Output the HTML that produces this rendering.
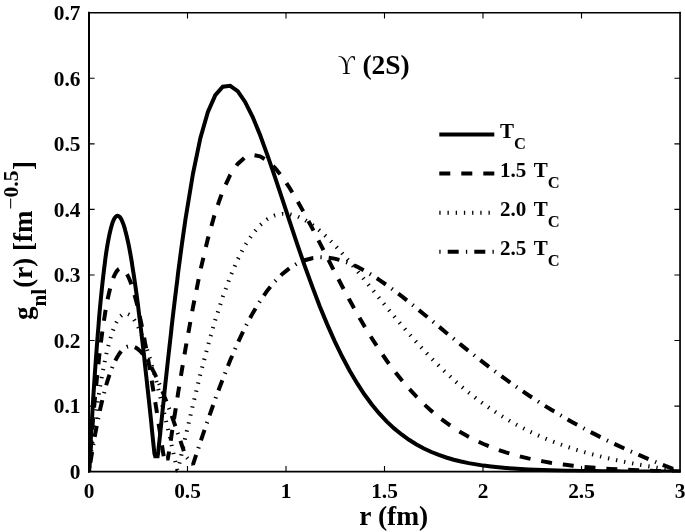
<!DOCTYPE html>
<html lang="en">
<head>
<meta charset="utf-8">
<title>Upsilon (2S) radial wave function</title>
<style>
html,body{margin:0;padding:0;background:#fff;}
body{width:685px;height:532px;overflow:hidden;}
svg{display:block;}
text{font-family:"Liberation Serif","DejaVu Serif",serif;font-weight:bold;fill:#000;}
.tk{font-size:21.4px;}
.ax{font-size:27px;}
.lg{font-size:21px;}
.sub{font-size:16.5px;}
.crv{fill:none;stroke:#000;stroke-width:4;stroke-linejoin:miter;stroke-miterlimit:2;}
</style>
</head>
<body>
<svg width="685" height="532" viewBox="0 0 685 532">
<rect x="0" y="0" width="685" height="532" fill="#fff"/>
<clipPath id="box"><rect x="88.0" y="12.8" width="593.0" height="459.8"/></clipPath>
<g clip-path="url(#box)">
<path class="crv" stroke-dasharray="1.3 6.9" stroke-dashoffset="-4" d="M89.0 471.6L89.8 464.4L90.6 457.4L91.4 450.6L92.2 443.9L92.9 437.5L93.7 431.2L94.5 425.0L95.3 419.1L96.1 413.3L96.9 407.8L97.7 402.4L98.5 397.1L99.2 392.1L100.0 387.2L100.8 382.5L101.6 377.9L102.4 373.5L103.2 369.3L104.0 365.3L104.8 361.4L105.5 357.7L106.3 354.1L107.1 350.7L107.9 347.5L108.7 344.5L109.5 341.5L110.3 338.8L111.1 336.2L111.9 333.7L112.6 331.4L113.4 329.3L114.2 327.3L115.0 325.4L115.8 323.7L116.6 322.1L117.4 320.7L118.2 319.4L118.9 318.2L119.7 317.2L120.5 316.3L121.3 315.6L122.1 314.9L122.9 314.4L123.7 314.0L124.5 313.8L125.2 313.6L126.0 313.6L126.8 313.7L127.6 313.9L128.4 314.3L129.2 314.7L130.0 315.2L130.8 315.9L131.6 316.6L132.3 317.5L133.1 318.4L133.9 319.5L134.7 320.6L135.5 321.9L136.3 323.2L137.1 324.6L137.9 326.1L138.6 327.7L139.4 329.4L140.2 331.1L141.0 333.0L141.8 334.9L142.6 336.8L143.4 338.9L144.2 341.0L144.9 343.2L145.7 345.5L146.5 347.8L147.3 350.2L148.1 352.7L148.9 355.2L149.7 357.8L150.5 360.4L151.3 363.1L152.0 365.8L152.8 368.6L153.6 371.4L154.4 374.3L155.2 377.2L156.0 380.1L156.8 383.1L157.6 386.2L158.3 389.2L159.1 392.4L159.9 395.5L160.7 398.7L161.5 401.9L162.3 405.1L163.1 408.4L163.9 411.7L164.6 415.0L165.4 418.3L166.2 421.7L167.0 425.0L167.8 428.4L168.6 431.8L169.4 435.3L170.2 438.7L171.0 442.2L171.7 445.6L172.5 449.1L173.3 452.6L174.1 456.1L174.9 459.5L175.7 463.0L176.5 466.5L177.3 470.0L178.0 469.6L178.8 466.1L179.6 462.6L180.4 459.1L181.2 455.7L182.0 452.2L182.8 448.7L185.5 436.7L193.0 404.6L200.4 374.1L207.9 345.8L215.3 319.9L222.8 296.9L230.2 276.7L237.7 259.5L245.1 245.3L252.6 234.0L260.0 225.3L267.4 219.2L274.9 215.5L282.4 213.9L289.8 214.3L297.2 216.3L304.7 219.8L312.2 224.7L319.6 230.6L327.1 237.4L334.5 244.9L342.0 253.1L349.4 261.6L356.9 270.5L364.3 279.6L371.8 288.8L379.2 298.0L386.6 307.2L394.1 316.2L401.6 325.1L409.0 333.8L416.5 342.2L423.9 350.3L431.4 358.2L438.8 365.7L446.2 372.9L453.7 379.8L461.1 386.3L468.6 392.5L476.1 398.4L483.5 403.9L491.0 409.1L498.4 414.0L505.9 418.6L513.3 423.0L520.8 427.0L528.2 430.8L535.7 434.3L543.1 437.6L550.5 440.7L558.0 443.5L565.5 446.2L572.9 448.7L580.4 451.0L587.8 453.1L595.2 455.1L602.7 457.0L610.2 458.7L617.6 460.4L625.0 461.9L632.5 463.4L640.0 464.8L647.4 466.1L654.9 467.4L662.3 468.6L669.8 469.9L677.2 471.1L680.0 471.6"/>
<path class="crv" stroke-dasharray="1.3 7 11 7.1" stroke-dashoffset="-0.6" d="M89.0 471.6L89.8 466.4L90.6 461.3L91.4 456.4L92.2 451.6L92.9 446.9L93.7 442.3L94.5 437.8L95.3 433.5L96.1 429.3L96.9 425.1L97.7 421.2L98.5 417.3L99.2 413.5L100.0 409.9L100.8 406.4L101.6 403.0L102.4 399.7L103.2 396.5L104.0 393.4L104.8 390.4L105.5 387.6L106.3 384.8L107.1 382.1L107.9 379.6L108.7 377.1L109.5 374.8L110.3 372.6L111.1 370.4L111.9 368.4L112.6 366.4L113.4 364.6L114.2 362.8L115.0 361.2L115.8 359.6L116.6 358.2L117.4 356.8L118.2 355.5L118.9 354.3L119.7 353.2L120.5 352.1L121.3 351.2L122.1 350.3L122.9 349.6L123.7 348.9L124.5 348.3L125.2 347.7L126.0 347.3L126.8 346.9L127.6 346.6L128.4 346.4L129.2 346.2L130.0 346.1L130.8 346.1L131.6 346.2L132.3 346.3L133.1 346.5L133.9 346.8L134.7 347.1L135.5 347.5L136.3 348.0L137.1 348.5L137.9 349.0L138.6 349.7L139.4 350.4L140.2 351.1L141.0 351.9L141.8 352.8L142.6 353.7L143.4 354.7L144.2 355.7L144.9 356.8L145.7 357.9L146.5 359.1L147.3 360.3L148.1 361.6L148.9 362.9L149.7 364.2L150.5 365.6L151.3 367.1L152.0 368.5L152.8 370.1L153.6 371.6L154.4 373.2L155.2 374.8L156.0 376.5L156.8 378.2L157.6 380.0L158.3 381.7L159.1 383.5L159.9 385.4L160.7 387.2L161.5 389.1L162.3 391.0L163.1 393.0L163.9 394.9L164.6 396.9L165.4 399.0L166.2 401.0L167.0 403.1L167.8 405.2L168.6 407.3L169.4 409.4L170.2 411.6L171.0 413.7L171.7 415.9L172.5 418.1L173.3 420.3L174.1 422.6L174.9 424.8L175.7 427.1L176.5 429.4L177.3 431.6L178.0 433.9L178.8 436.3L179.6 438.6L180.4 440.9L181.2 443.2L182.0 445.6L182.8 447.9L185.5 456.1L193.0 464.5L200.4 442.0L207.9 420.1L215.3 399.0L222.8 379.0L230.2 360.3L237.7 343.1L245.1 327.4L252.6 313.4L260.0 301.1L267.4 290.4L274.9 281.4L282.4 273.9L289.8 268.0L297.2 263.4L304.7 260.2L312.2 258.2L319.6 257.3L327.1 257.5L334.5 258.6L342.0 260.6L349.4 263.3L356.9 266.6L364.3 270.6L371.8 275.0L379.2 279.8L386.6 285.0L394.1 290.5L401.6 296.2L409.0 302.0L416.5 308.1L423.9 314.2L431.4 320.3L438.8 326.5L446.2 332.7L453.7 338.8L461.1 344.9L468.6 350.9L476.1 356.8L483.5 362.6L491.0 368.3L498.4 373.9L505.9 379.4L513.3 384.7L520.8 389.9L528.2 395.0L535.7 399.9L543.1 404.7L550.5 409.3L558.0 413.8L565.5 418.2L572.9 422.5L580.4 426.6L587.8 430.6L595.2 434.4L602.7 438.2L610.2 441.9L617.6 445.4L625.0 448.8L632.5 452.2L640.0 455.4L647.4 458.6L654.9 461.7L662.3 464.7L669.8 467.7L677.2 470.5L680.0 471.6"/>
<path class="crv" stroke-dasharray="10.95 10.92" stroke-dashoffset="1.5" d="M89.0 471.6L89.8 460.8L90.6 450.4L91.4 440.2L92.2 430.4L92.9 420.9L93.7 411.8L94.5 402.9L95.3 394.4L96.1 386.1L96.9 378.2L97.7 370.6L98.5 363.3L99.2 356.3L100.0 349.5L100.8 343.1L101.6 337.0L102.4 331.1L103.2 325.6L104.0 320.3L104.8 315.3L105.5 310.6L106.3 306.1L107.1 301.9L107.9 298.0L108.7 294.4L109.5 291.0L110.3 287.8L111.1 284.9L111.9 282.3L112.6 279.9L113.4 277.7L114.2 275.8L115.0 274.1L115.8 272.7L116.6 271.4L117.4 270.4L118.2 269.6L118.9 269.0L119.7 268.6L120.5 268.4L121.3 268.5L122.1 268.7L122.9 269.1L123.7 269.7L124.5 270.5L125.2 271.4L126.0 272.6L126.8 273.9L127.6 275.3L128.4 277.0L129.2 278.8L130.0 280.7L130.8 282.8L131.6 285.1L132.3 287.5L133.1 290.0L133.9 292.7L134.7 295.5L135.5 298.4L136.3 301.4L137.1 304.6L137.9 307.9L138.6 311.3L139.4 314.8L140.2 318.4L141.0 322.1L141.8 325.9L142.6 329.8L143.4 333.8L144.2 337.8L144.9 342.0L145.7 346.2L146.5 350.5L147.3 354.9L148.1 359.4L148.9 363.9L149.7 368.4L150.5 373.1L151.3 377.8L152.0 382.5L152.8 387.3L153.6 392.1L154.4 397.0L155.2 401.9L156.0 406.8L156.8 411.8L157.6 416.8L158.3 421.9L159.1 426.9L159.9 432.0L160.7 437.1L161.5 442.3L162.3 447.4L163.1 452.5L163.9 457.7L164.6 458.5L165.4 458.5L166.2 458.5"/>
<path class="crv" stroke-dasharray="10.95 10.92" stroke-dashoffset="2.21" d="M166.2 458.5L167.0 458.5L167.8 458.5L168.6 454.5L169.4 449.4L170.2 444.2L171.0 439.1L171.7 434.0L172.5 428.9L173.3 423.8L174.1 418.7L174.9 413.7L175.7 408.6L176.5 403.6L177.3 398.7L178.0 393.7L178.8 388.8L179.6 383.9L180.4 379.1L181.2 374.2L182.0 369.4L182.8 364.7L185.5 348.6L193.0 307.2L200.4 270.3L207.9 238.6L215.3 212.1L222.8 190.9L230.2 174.9L237.7 163.9L245.1 157.4L252.6 155.0L260.0 156.3L267.4 160.7L274.9 167.8L282.4 177.1L289.8 188.2L297.2 200.6L304.7 214.0L312.2 228.1L319.6 242.6L327.1 257.2L334.5 271.7L342.0 286.0L349.4 299.8L356.9 313.2L364.3 326.0L371.8 338.2L379.2 349.7L386.6 360.5L394.1 370.6L401.6 380.0L409.0 388.7L416.5 396.7L423.9 404.1L431.4 410.9L438.8 417.1L446.2 422.7L453.7 427.9L461.1 432.5L468.6 436.8L476.1 440.6L483.5 444.0L491.0 447.1L498.4 449.9L505.9 452.4L513.3 454.6L520.8 456.6L528.2 458.4L535.7 460.0L543.1 461.4L550.5 462.7L558.0 463.8L565.5 464.8L572.9 465.7L580.4 466.5L587.8 467.2L595.2 467.8L602.7 468.4L610.2 468.9L617.6 469.3L625.0 469.7L632.5 470.1L640.0 470.4L647.4 470.7L654.9 470.9L662.3 471.1L669.8 471.3L677.2 471.5L680.0 471.6"/>
<path class="crv" d="M89.0 471.6L89.8 457.0L90.6 442.9L91.4 429.2L92.2 416.0L92.9 403.2L93.7 390.8L94.5 378.9L95.3 367.4L96.1 356.3L96.9 345.7L97.7 335.5L98.5 325.8L99.2 316.5L100.0 307.6L100.8 299.2L101.6 291.2L102.4 283.6L103.2 276.5L104.0 269.8L104.8 263.5L105.5 257.6L106.3 252.1L107.1 247.0L107.9 242.3L108.7 238.1L109.5 234.2L110.3 230.7L111.1 227.6L111.9 224.8L112.6 222.5L113.4 220.5L114.2 218.8L115.0 217.6L115.8 216.6L116.6 216.0L117.4 215.8L118.2 215.9L118.9 216.3L119.7 217.0L120.5 218.0L121.3 219.3L122.1 221.0L122.9 222.9L123.7 225.1L124.5 227.5L125.2 230.3L126.0 233.2L126.8 236.5L127.6 240.0L128.4 243.7L129.2 247.7L130.0 251.9L130.8 256.3L131.6 260.9L132.3 265.7L133.1 270.7L133.9 275.9L134.7 281.2L135.5 286.8L136.3 292.5L137.1 298.3L137.9 304.3L138.6 310.5L139.4 316.8L140.2 323.2L141.0 329.7L141.8 336.4L142.6 343.2L143.4 350.0L144.2 357.0L144.9 364.0L145.7 371.2L146.5 378.4L147.3 385.7L148.1 393.0L148.9 400.4L149.7 407.9L150.5 415.4L151.3 422.9L152.0 430.5L152.8 438.1L153.6 445.7L154.4 453.4L155.2 456.2L156.0 456.2L156.8 456.2L157.6 456.2L158.3 451.5L159.1 443.8L159.9 436.2L160.7 428.6L161.5 421.0L162.3 413.4L163.1 405.9L163.9 398.4L164.6 390.9L165.4 383.5L166.2 376.2L167.0 368.8L167.8 361.6L168.6 354.4L169.4 347.3L170.2 340.2L171.0 333.2L171.7 326.3L172.5 319.4L173.3 312.6L174.1 305.9L174.9 299.3L175.7 292.8L176.5 286.3L177.3 279.9L178.0 273.6L178.8 267.5L179.6 261.4L180.4 255.4L181.2 249.5L182.0 243.6L182.8 237.9L185.5 219.0L193.0 173.5L200.4 137.9L207.9 111.9L215.3 95.1L222.8 86.7L230.2 85.8L237.7 91.2L245.1 101.9L252.6 116.8L260.0 134.8L267.4 155.1L274.9 176.9L282.4 199.3L289.8 221.9L297.2 244.2L304.7 265.8L312.2 286.4L319.6 305.9L327.1 324.1L334.5 340.9L342.0 356.3L349.4 370.3L356.9 382.9L364.3 394.3L371.8 404.4L379.2 413.4L386.6 421.4L394.1 428.4L401.6 434.5L409.0 439.8L416.5 444.5L423.9 448.5L431.4 452.0L438.8 454.9L446.2 457.5L453.7 459.7L461.1 461.5L468.6 463.1L476.1 464.4L483.5 465.6L491.0 466.5L498.4 467.3L505.9 468.0L513.3 468.6L520.8 469.1L528.2 469.5L535.7 469.8L543.1 470.1L550.5 470.3L558.0 470.5L565.5 470.7L572.9 470.8L580.4 471.0L587.8 471.1L595.2 471.1L602.7 471.2L610.2 471.3L617.6 471.3L625.0 471.4L632.5 471.4L640.0 471.4L647.4 471.5L654.9 471.5L662.3 471.5L669.8 471.6L677.2 471.6L680.0 471.6"/>
</g>
<g fill="none" stroke="#000" stroke-linecap="square">
<path d="M89 12.7V471.65" stroke-width="2"/>
<path d="M680.05 12.7V471.65" stroke-width="1.7"/>
<path d="M89 12.7H680.05" stroke-width="1.4"/>
<path d="M89 471.65H680.05" stroke-width="1.9"/>
</g>
<path d="M187.5 471.6v-5.6M187.5 12.8v5.6M286.0 471.6v-5.6M286.0 12.8v5.6M384.5 471.6v-5.6M384.5 12.8v5.6M483.0 471.6v-5.6M483.0 12.8v5.6M581.5 471.6v-5.6M581.5 12.8v5.6M89.0 406.1h5.6M680.0 406.1h-5.6M89.0 340.5h5.6M680.0 340.5h-5.6M89.0 275.0h5.6M680.0 275.0h-5.6M89.0 209.4h5.6M680.0 209.4h-5.6M89.0 143.9h5.6M680.0 143.9h-5.6M89.0 78.3h5.6M680.0 78.3h-5.6" fill="none" stroke="#000" stroke-width="1.1"/>
<g class="tk"><text x="89.0" y="498.2" text-anchor="middle">0</text><text x="187.5" y="498.2" text-anchor="middle">0.5</text><text x="286.0" y="498.2" text-anchor="middle">1</text><text x="384.5" y="498.2" text-anchor="middle">1.5</text><text x="483.0" y="498.2" text-anchor="middle">2</text><text x="581.5" y="498.2" text-anchor="middle">2.5</text><text x="680.0" y="498.2" text-anchor="middle">3</text><text x="80.5" y="478.8" text-anchor="end">0</text><text x="80.5" y="413.3" text-anchor="end">0.1</text><text x="80.5" y="347.7" text-anchor="end">0.2</text><text x="80.5" y="282.2" text-anchor="end">0.3</text><text x="80.5" y="216.6" text-anchor="end">0.4</text><text x="80.5" y="151.1" text-anchor="end">0.5</text><text x="80.5" y="85.5" text-anchor="end">0.6</text><text x="80.5" y="20.0" text-anchor="end">0.7</text></g>
<text class="ax" style="font-size:27.5px" x="359.3" y="525.2">r (fm)</text>
<text class="ax" transform="translate(32 320) rotate(-90)">g<tspan style="font-size:21px" dy="13.5">nl</tspan><tspan dy="-13.5" dx="1.2">(r) [fm</tspan><tspan style="font-size:21.5px;font-weight:normal" dy="-14.3" dx="1">−</tspan><tspan style="font-size:21.5px">0.5</tspan><tspan dy="14.3" dx="0.5">]</tspan></text>
<text class="ax" style="font-weight:normal" transform="translate(338 73.6) scale(0.86 1.05)">ϒ</text>
<text class="ax" style="font-size:27.5px" x="362.4" y="73.7">(2S)</text>
<g fill="none" stroke="#000" stroke-width="4">
<path d="M439.3 134.5H494.3"/>
<path d="M439.3 173.5H494.3" stroke-dasharray="11 11"/>
<path d="M439.3 212.8H494.3" stroke-dasharray="1.3 6.9"/>
<path d="M439.3 251.8H494.3" stroke-dasharray="1.3 7.1 11 7.2"/>
</g>
<g class="lg">
<text x="500" y="138">T<tspan class="sub" dy="10.6">C</tspan></text>
<text x="500" y="177">1.5 <tspan dx="2.5">T</tspan><tspan class="sub" dy="10.6">C</tspan></text>
<text x="500" y="216.2">2.0 <tspan dx="2.5">T</tspan><tspan class="sub" dy="10.6">C</tspan></text>
<text x="500" y="255.4">2.5 <tspan dx="2.5">T</tspan><tspan class="sub" dy="10.6">C</tspan></text>
</g>
</svg>
</body>
</html>
